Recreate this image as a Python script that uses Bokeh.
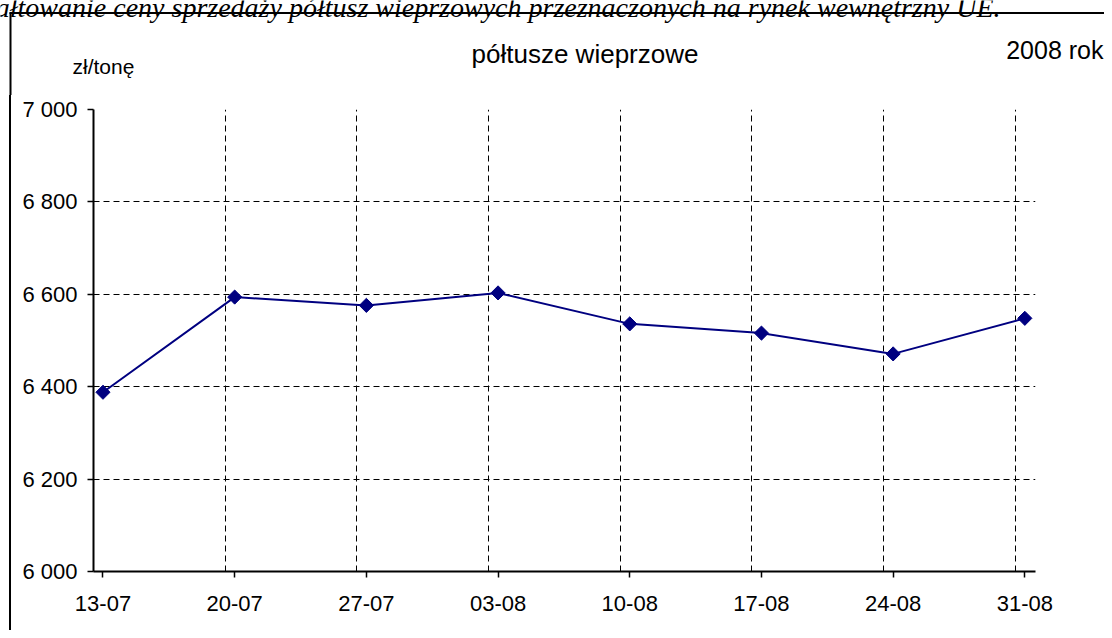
import math
from bokeh.plotting import figure
from bokeh.layouts import column, row
from bokeh.models import LinearAxis, FixedTicker, Grid, Range1d, ColumnDataSource
from bokeh.core.properties import value
from bokeh.embed import file_html
from bokeh.resources import INLINE

# ---- data ----
dates = ["13-07", "20-07", "27-07", "03-08", "10-08", "17-08", "24-08", "31-08"]
prices = [6388, 6594, 6576, 6603, 6536, 6516, 6471, 6548]
y_ticks = [6000, 6200, 6400, 6600, 6800, 7000]
y_tick_labels = ["6 000", "6 200", "6 400", "6 600", "6 800", "7 000"]
unit_label = "zł/tonę"
series_title = "półtusze wieprzowe"
year_label = "2008 rok"
caption = "Kształtowanie ceny sprzedaży półtusz wieprzowych przeznaczonych na rynek wewnętrzny UE."

# ---- style / layout ----
FONT = "Liberation Sans"
SERIF = "Liberation Serif"
GRID_SHIFT = 0.072
LINE_COLOR = "#000080"
PAGE_W, PAGE_H = 1104, 630
TOP_H = 95
MAIN_H = PAGE_H - TOP_H

# ---------- top strip: headings and the chart-area border ----------
top = figure(width=PAGE_W, height=TOP_H,
             x_range=Range1d(0, PAGE_W), y_range=Range1d(TOP_H, 0),
             x_axis_type=None, y_axis_type=None, min_border=0,
             output_backend="svg", toolbar_location=None)
top.outline_line_color = None
top.segment(x0=[9, 10], y0=[12.5, 12], x1=[PAGE_W, 10], y1=[12.5, TOP_H],
            line_color="black", line_width=2)
top.text(x=[1000], y=[7], text=[caption], text_font=value(SERIF),
         text_font_size="28px", text_font_style="italic", text_color="black",
         text_baseline="alphabetic", text_align="right")
top.text(x=[72], y=[66], text=[unit_label], text_font=value(FONT),
         text_font_size="21px", text_color="black",
         text_baseline="alphabetic", text_align="left")
top.text(x=[584.5], y=[53], text=[series_title], text_font=value(FONT),
         text_font_size="26px", text_color="black",
         text_baseline="alphabetic", text_align="center")
top.text(x=[1103], y=[49], text=[year_label], text_font=value(FONT),
         text_font_size="25px", text_color="black",
         text_baseline="alphabetic", text_align="right")

# ---------- main chart ----------
x_pos = list(range(len(dates)))
src = ColumnDataSource(dict(x=x_pos, y=prices))

p = figure(width=PAGE_W, height=MAIN_H,
           x_range=Range1d(-GRID_SHIFT, len(dates) - 1 + 0.081),
           y_range=Range1d(y_ticks[0], y_ticks[-1]),
           x_axis_type=None, y_axis_type=None,
           output_backend="svg", toolbar_location=None,
           min_border_left=93, min_border_right=69,
           min_border_top=14, min_border_bottom=59)
p.outline_line_color = None
p.border_fill_alpha = 0
p.background_fill_color = "white"
# left edge of the chart-area border continues down the page
p.styles = {"background": "linear-gradient(black, black) 9px 0 / 2px 100% no-repeat, white"}

yaxis = LinearAxis(ticker=FixedTicker(ticks=y_ticks),
                   major_label_overrides={t: l for t, l in zip(y_ticks, y_tick_labels)})
yaxis.axis_line_width = 2
yaxis.axis_line_color = "black"
yaxis.major_tick_line_color = "black"
yaxis.major_tick_line_width = 1.5
yaxis.major_tick_in = 0
yaxis.major_tick_out = 6
yaxis.minor_tick_line_color = None
yaxis.major_label_standoff = 10
yaxis.major_label_text_font = FONT
yaxis.major_label_text_font_size = "22px"
yaxis.major_label_text_color = "black"
p.add_layout(yaxis, "left")

xaxis = LinearAxis(ticker=FixedTicker(ticks=x_pos),
                   major_label_overrides={i: d for i, d in zip(x_pos, dates)})
xaxis.axis_line_width = 2
xaxis.axis_line_color = "black"
xaxis.major_tick_line_color = "black"
xaxis.major_tick_line_width = 1.5
xaxis.major_tick_in = 0
xaxis.major_tick_out = 6
xaxis.minor_tick_line_color = None
xaxis.major_label_standoff = 18
xaxis.major_label_text_font = FONT
xaxis.major_label_text_font_size = "22px"
xaxis.major_label_text_color = "black"
p.add_layout(xaxis, "below")

grid_x_ticker = FixedTicker(ticks=[i - GRID_SHIFT for i in x_pos])
p.add_layout(Grid(dimension=0, ticker=grid_x_ticker, grid_line_color="black",
                  grid_line_dash="6 4", grid_line_width=1))
p.add_layout(Grid(dimension=1, ticker=yaxis.ticker, grid_line_color="black",
                  grid_line_dash="6 4", grid_line_width=1))

p.line("x", "y", source=src, line_color=LINE_COLOR, line_width=2)
p.scatter("x", "y", source=src, marker="square", angle=math.pi / 4, size=10,
          fill_color=LINE_COLOR, line_color=LINE_COLOR)

# wrap the chart in a row so its frame is not aligned with the heading strip
layout = column(top, row(p, spacing=0), spacing=0)
open("out.html", "w").write(file_html(layout, INLINE))
